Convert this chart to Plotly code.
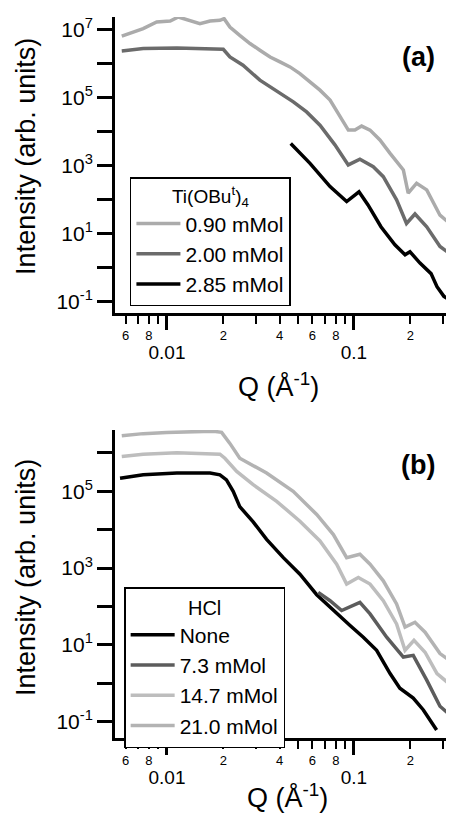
import plotly.graph_objects as go

# panel (a): Ti(OBu^t)4 series
q_090 = [0.00573, 0.00746, 0.00881, 0.0104, 0.0115, 0.0133, 0.0150, 0.0170, 0.0192, 0.0202,
         0.0217, 0.0245, 0.0278, 0.0314, 0.0356, 0.0402, 0.0455, 0.0514, 0.0582, 0.0658,
         0.0745, 0.0841, 0.0933, 0.1012, 0.1099, 0.1219, 0.1377, 0.156, 0.1837, 0.195,
         0.2163, 0.245, 0.2884, 0.343]
i_090 = [6.4e6, 1.07e7, 1.67e7, 1.79e7, 2.34e7, 1.79e7, 1.50e7, 1.79e7, 1.87e7, 2.1e7,
         1.19e7, 6.8e6, 3.9e6, 2.47e6, 1.57e6, 1.12e6, 8.0e5, 5.1e5, 2.9e5, 1.66e5,
         8.5e4, 2.7e4, 1.11e4, 1.11e4, 1.46e4, 1.11e4, 5.7e3, 2.3e3, 750, 155,
         305, 194, 35, 16]

q_200 = [0.00573, 0.00746, 0.0113, 0.0170, 0.0200, 0.0217, 0.0255, 0.0314, 0.0402, 0.0474,
         0.0558, 0.0658, 0.0791, 0.0877, 0.0932, 0.1076, 0.1268, 0.1435, 0.169, 0.191,
         0.212, 0.245, 0.2884, 0.343]
i_200 = [2.36e6, 2.77e6, 2.89e6, 2.77e6, 2.64e6, 1.57e6, 8.97e5, 3.26e5, 1.33e5, 7.5e4,
         3.8e4, 1.55e4, 4.1e3, 1.84e3, 1.05e3, 1.55e3, 935, 475, 99, 20,
         38, 16, 4.2, 2.1]

q_285 = [0.0459, 0.0582, 0.0745, 0.0914, 0.1064, 0.1189, 0.1394, 0.1656, 0.1876, 0.1993,
         0.2255, 0.2584, 0.278, 0.3028, 0.343]
i_285 = [4.5e3, 1.17e3, 242, 88, 170, 70, 16, 4.7, 2.4, 2.95,
         1.37, 0.67, 0.277, 0.144, 0.092]

# panel (b): HCl series
q_none = [0.00561, 0.00746, 0.0113, 0.0170, 0.0192, 0.0208, 0.0226, 0.0245, 0.0289, 0.0341,
          0.0419, 0.0514, 0.0632, 0.0776, 0.0953, 0.1122, 0.1322, 0.156, 0.176, 0.2075,
          0.235, 0.2767]
i_none = [2.2e5, 2.7e5, 3.0e5, 3.0e5, 2.7e5, 2.0e5, 1.0e5, 4.0e4, 1.6e4, 5.6e3,
          1.87e3, 695, 202, 78, 32, 15.8, 7.2, 1.78, 0.74, 0.41,
          0.2, 0.06]

q_73 = [0.0644, 0.0745, 0.0859, 0.1076, 0.1219, 0.1496, 0.1837, 0.2075, 0.245, 0.2884, 0.343]
i_73 = [232, 141, 78, 128, 64, 15.8, 4.8, 5.3, 1.2, 0.25, 0.12]

q_147 = [0.00573, 0.00746, 0.0113, 0.0170, 0.0192, 0.0204, 0.0236, 0.0289, 0.0386, 0.0514,
         0.0658, 0.0808, 0.0914, 0.1055, 0.1219, 0.1435, 0.169, 0.1876, 0.2094, 0.240,
         0.278, 0.343]
i_147 = [8.1e5, 9.3e5, 1.02e6, 9.8e5, 9.3e5, 7.3e5, 3.3e5, 1.49e5, 5.5e4, 1.67e4,
         5.1e3, 1.26e3, 383, 568, 383, 141, 35, 7.2, 13, 6.4,
         1.78, 0.75]

q_210 = [0.00573, 0.00746, 0.00996, 0.0177, 0.0196, 0.0217, 0.0245, 0.0341, 0.0473, 0.0632,
         0.0776, 0.0914, 0.1076, 0.1219, 0.1435, 0.169, 0.1876, 0.212, 0.240, 0.2884, 0.343]
i_210 = [2.8e6, 3.2e6, 3.45e6, 3.7e6, 3.45e6, 1.78e6, 7.3e5, 3.0e5, 1.0e5, 2.5e4,
         7.5e3, 1.87e3, 2.3e3, 1.26e3, 466, 116, 28.8, 38.7, 21.3, 5.9, 3.2]

# axis ticks
x_minor_vals = [0.006, 0.007, 0.008, 0.009, 0.02, 0.03, 0.04, 0.05, 0.06, 0.07, 0.08, 0.09, 0.2, 0.3]
x_minor_text = ['6', '', '8', '', '2', '', '4', '', '6', '', '8', '', '2', '']
x_major_vals = [0.01, 0.1]
x_major_text = ['0.01', '0.1']

y_vals_a = [0.1, 1, 10, 100, 1e3, 1e4, 1e5, 1e6, 1e7]
y_text_a = ['10<sup>-1</sup>', '', '10<sup>1</sup>', '', '10<sup>3</sup>', '', '10<sup>5</sup>', '', '10<sup>7</sup>']
y_vals_b = [0.1, 1, 10, 100, 1e3, 1e4, 1e5, 1e6]
y_text_b = ['10<sup>-1</sup>', '', '10<sup>1</sup>', '', '10<sup>3</sup>', '', '10<sup>5</sup>', '']

FONT = 'Liberation Sans, Arial, sans-serif'
X_RANGE = [-2.278, -0.465]

fig = go.Figure()
fig.add_trace(go.Scatter(x=q_090, y=i_090, mode='lines', name='0.90 mMol',
                         line=dict(color='#ababab', width=3.5), xaxis='x', yaxis='y', legend='legend'))
fig.add_trace(go.Scatter(x=q_200, y=i_200, mode='lines', name='2.00 mMol',
                         line=dict(color='#6b6b6b', width=3.5), xaxis='x', yaxis='y', legend='legend'))
fig.add_trace(go.Scatter(x=q_285, y=i_285, mode='lines', name='2.85 mMol',
                         line=dict(color='black', width=3.5), xaxis='x', yaxis='y', legend='legend'))

fig.add_trace(go.Scatter(x=q_none, y=i_none, mode='lines', name='None',
                         line=dict(color='black', width=3.5), xaxis='x2', yaxis='y2', legend='legend2'))
fig.add_trace(go.Scatter(x=q_73, y=i_73, mode='lines', name='7.3 mMol',
                         line=dict(color='#5c5c5c', width=3.5), xaxis='x2', yaxis='y2', legend='legend2'))
fig.add_trace(go.Scatter(x=q_147, y=i_147, mode='lines', name='14.7 mMol',
                         line=dict(color='#bdbdbd', width=3.5), xaxis='x2', yaxis='y2', legend='legend2'))
fig.add_trace(go.Scatter(x=q_210, y=i_210, mode='lines', name='21.0 mMol',
                         line=dict(color='#b3b3b3', width=3.5), xaxis='x2', yaxis='y2', legend='legend2'))

# empty traces so the overlaid decade axes (long ticks, 0.01 / 0.1 labels) get drawn
fig.add_trace(go.Scatter(x=[], y=[], xaxis='x3', yaxis='y', showlegend=False, hoverinfo='skip'))
fig.add_trace(go.Scatter(x=[], y=[], xaxis='x4', yaxis='y2', showlegend=False, hoverinfo='skip'))


def x_axis(anchor):
    return dict(type='log', range=X_RANGE, anchor=anchor, domain=[0, 1], automargin=False,
                showline=True, linecolor='black', linewidth=3, showgrid=False, zeroline=False,
                ticks='outside', ticklen=8, tickwidth=2, tickcolor='black',
                tickmode='array', tickvals=x_minor_vals, ticktext=x_minor_text,
                tickfont=dict(size=13, color='black'))


def x_major(overlay, anchor):
    return dict(type='log', range=X_RANGE, overlaying=overlay, anchor=anchor, side='bottom',
                automargin=False, showline=False, showgrid=False, zeroline=False,
                ticks='outside', ticklen=16, tickwidth=2.5, tickcolor='black',
                tickmode='array', tickvals=x_major_vals, ticktext=x_major_text,
                tickfont=dict(size=19, color='black'), ticklabelstandoff=6)


def y_axis(anchor, rng, dom, vals, text):
    return dict(type='log', range=rng, anchor=anchor, domain=dom, automargin=False,
                showline=True, linecolor='black', linewidth=3, showgrid=False, zeroline=False,
                ticks='outside', ticklen=15, tickwidth=2.5, tickcolor='black',
                tickmode='array', tickvals=vals, ticktext=text,
                tickfont=dict(size=21, color='black'))


legend_style = dict(xanchor='left', yanchor='top', bordercolor='black', borderwidth=1.5,
                    bgcolor='white', font=dict(size=21, color='black'), tracegroupgap=0,
                    itemwidth=44)

# the page body adds an 8px offset, so the figure is 8px smaller than the window
fig.update_layout(
    width=446, height=810,
    margin=dict(l=107, r=0, t=9, b=80, autoexpand=False),
    paper_bgcolor='white', plot_bgcolor='white',
    font=dict(family=FONT, color='black'),
    xaxis=x_axis('y'),
    xaxis2=x_axis('y2'),
    xaxis3=x_major('x', 'y'),
    xaxis4=x_major('x2', 'y2'),
    yaxis=y_axis('x', [-1.33, 7.37], [0.5895, 1], y_vals_a, y_text_a),
    yaxis2=y_axis('x2', [-1.43, 6.6], [0, 0.4272], y_vals_b, y_text_b),
    legend=dict(x=0.044, y=0.778,
                title=dict(text='Ti(OBu<sup>t</sup>)<sub>4</sub>', side='top center',
                           font=dict(size=19)), **legend_style),
    legend2=dict(x=0.027, y=0.2094,
                 title=dict(text='HCl', side='top center', font=dict(size=20)), **legend_style),
    showlegend=True,
)

annotations = [
    dict(text='<b>(a)</b>', x=0.894, y=0.9445, font=dict(size=27)),
    dict(text='<b>(b)</b>', x=0.894, y=0.3786, font=dict(size=27)),
    dict(text='Q (Å<sup>-1</sup>)', x=0.481, y=0.49, font=dict(size=27)),
    dict(text='Q (Å<sup>-1</sup>)', x=0.51, y=-0.08, font=dict(size=27)),
    dict(text='Intensity (arb. units)', x=-0.2625, y=0.806, textangle=-90, font=dict(size=27)),
    dict(text='Intensity (arb. units)', x=-0.2625, y=0.222, textangle=-90, font=dict(size=27)),
]
for a in annotations:
    fig.add_annotation(xref='paper', yref='paper', showarrow=False,
                       xanchor='center', yanchor='middle', **a)

fig.write_html("out.html")
